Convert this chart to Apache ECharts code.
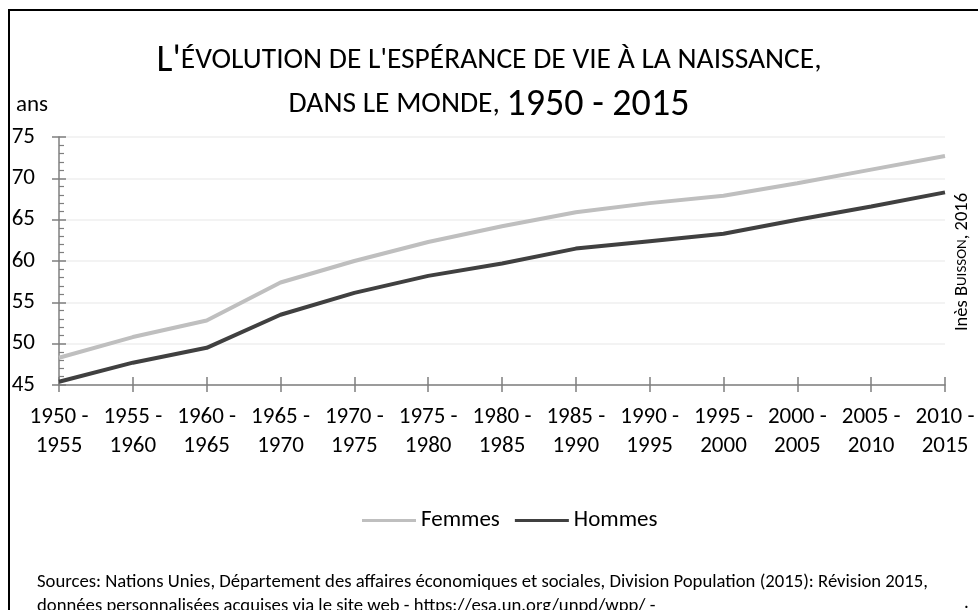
<!DOCTYPE html>
<html><head><meta charset="utf-8">
<script src="https://cdn.jsdelivr.net/npm/echarts@6/dist/echarts.min.js"></script>
<style>html,body{margin:0;padding:0;background:#fff}#c{width:978px;height:610px}</style>
</head><body><div id="c"></div>
<script>
const categories = ['1950 -\n1955','1955 -\n1960','1960 -\n1965','1965 -\n1970','1970 -\n1975','1975 -\n1980','1980 -\n1985','1985 -\n1990','1990 -\n1995','1995 -\n2000','2000 -\n2005','2005 -\n2010','2010 -\n2015'];
const femmes = [48.3, 50.8, 52.8, 57.4, 60.0, 62.3, 64.2, 65.9, 67.0, 67.9, 69.4, 71.05, 72.7];
const hommes = [45.4, 47.7, 49.5, 53.5, 56.15, 58.2, 59.7, 61.5, 62.4, 63.3, 65.0, 66.6, 68.3];
const yTicks = [45, 50, 55, 60, 65, 70, 75];

const FONT = 'Carlito, "Open Sans", "Noto Sans", sans-serif';
const chart = echarts.init(document.getElementById('c'), null, {renderer:'canvas'});
const axisCol = '#7f7f7f';
chart.setOption({
  animation:false,
  textStyle:{fontFamily:FONT, color:'#000'},
  title:{
    left:'center', top:34, itemGap:0,
    text:"{b|L'}{s|ÉVOLUTION DE L'ESPÉRANCE DE VIE À LA NAISSANCE,}\n{s|DANS LE MONDE, }{b|1950 - 2015}",
    textStyle:{
      fontFamily:FONT, color:'#000', fontWeight:'normal', lineHeight:44,
      rich:{
        b:{fontFamily:FONT, fontSize:38, color:'#000', lineHeight:44},
        s:{fontFamily:FONT, fontSize:29.5, color:'#000', lineHeight:44}
      }
    }
  },
  legend:{
    top:504, left:357, icon:'rect', itemWidth:54, itemHeight:3, itemGap:15,
    textStyle:{fontFamily:FONT, fontSize:23, color:'#000', padding:[0,0,0,0]},
    data:['Femmes','Hommes']
  },
  grid:{left:59, right:33, top:137, height:248, containLabel:false},
  xAxis:[{
    type:'category', data:categories, boundaryGap:false,
    axisLine:{lineStyle:{color:axisCol, width:1.5}},
    axisTick:{show:true, length:7, lineStyle:{color:axisCol, width:1.5}},
    axisLabel:{fontFamily:FONT, fontSize:23, color:'#000', margin:18, lineHeight:29, interval:0},
    splitLine:{show:false}
  },{
    type:'category', data:categories, boundaryGap:false, position:'bottom',
    axisLine:{show:false},
    axisTick:{show:true, inside:true, length:8, lineStyle:{color:axisCol, width:1.5}},
    axisLabel:{show:false}, splitLine:{show:false}
  }],
  yAxis:[{
    type:'value', min:yTicks[0], max:yTicks[yTicks.length-1], interval:5,
    axisLine:{show:true, lineStyle:{color:axisCol, width:1.5}},
    axisTick:{show:true, inside:true, length:7, lineStyle:{color:axisCol, width:1.5}},
    minorTick:{show:true, splitNumber:5, length:5, lineStyle:{color:axisCol, width:1.2}},
    axisLabel:{fontFamily:FONT, fontSize:23, color:'#000', margin:24},
    splitLine:{show:true, lineStyle:{color:'#efefef', width:1.5}}
  },{
    type:'value', min:yTicks[0], max:yTicks[yTicks.length-1], interval:5, position:'left',
    axisLine:{show:false},
    axisTick:{show:true, length:7, lineStyle:{color:axisCol, width:1.5}},
    axisLabel:{show:false}, splitLine:{show:false}
  }],
  series:[
    {name:'Femmes', type:'line', data:femmes, showSymbol:false, symbol:'none',
     lineStyle:{color:'#bfbfbf', width:4}, itemStyle:{color:'#bfbfbf'}, z:3},
    {name:'Hommes', type:'line', data:hommes, showSymbol:false, symbol:'none',
     lineStyle:{color:'#404040', width:4}, itemStyle:{color:'#404040'}, z:4}
  ],
  graphic:[
    {type:'rect', shape:{x:9, y:10, width:990, height:620}, style:{fill:'none', stroke:'#000', lineWidth:2}, silent:true},
    {type:'text', left:16, top:94, style:{text:'ans', font:'23px '+FONT, fill:'#000'}},
    {type:'text', x:962, y:262, rotation:Math.PI/2,
     style:{text:'{a|Inès B}{b|UISSON}{a|, 2016}', align:'center', verticalAlign:'middle',
       rich:{a:{fontFamily:FONT, fontSize:18.5, fill:'#000'}, b:{fontFamily:FONT, fontSize:15, fill:'#000'}}}},
    {type:'text', left:37, top:570,
     style:{text:'Sources: Nations Unies, Département des affaires économiques et sociales, Division Population (2015): Révision 2015,\ndonnées personnalisées acquises via le site web - https://esa.un.org/unpd/wpp/ -',
       font:'18.7px '+FONT, fill:'#000', lineHeight:24}},
    {type:'text', left:964, top:594, style:{text:'.', font:'19px '+FONT, fill:'#000'}}
  ]
});
</script></body></html>
